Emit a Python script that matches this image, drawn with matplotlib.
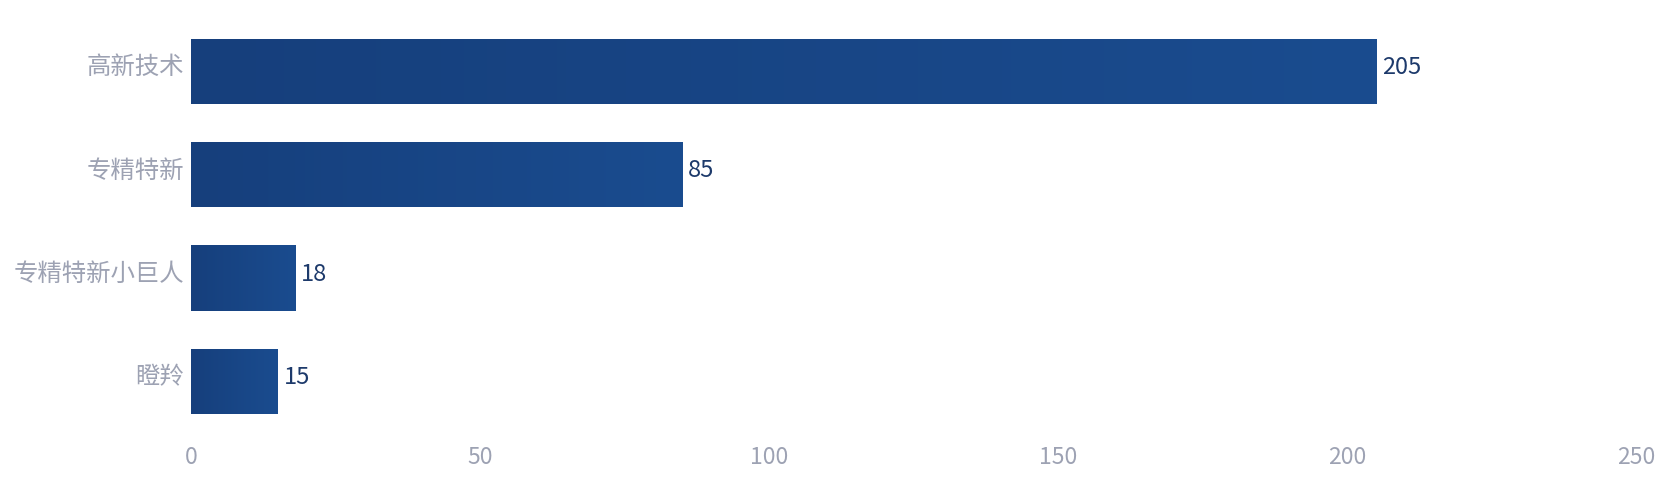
import matplotlib.pyplot as plt
import matplotlib.transforms as mtransforms
from matplotlib.colors import LinearSegmentedColormap
import numpy as np

plt.rcParams['font.family'] = ['Noto Sans CJK SC', 'DejaVu Sans']

# Data
categories = ['高新技术', '专精特新', '专精特新小巨人', '瞪羚']
values = [205, 85, 18, 15]
x_ticks = [0, 50, 100, 150, 200, 250]

label_color = '#9da2b3'
value_color = '#1d3a6b'

fig = plt.figure(figsize=(16.66, 4.98), dpi=100)
ax = fig.add_axes([0.1147, 0.1305, 0.8675, 0.83])

y = np.arange(len(categories))
bars = ax.barh(y, values, height=0.63, color='#184a8b')

# slight left-to-right gradient on each bar
grad = np.linspace(0, 1, 256).reshape(1, -1)
cmap = LinearSegmentedColormap.from_list('bar', ['#163f7c', '#1a4c8f'])
for b in bars:
    x0, y0, w, h = b.get_x(), b.get_y(), b.get_width(), b.get_height()
    im = ax.imshow(grad, extent=[x0, x0 + w, y0, y0 + h], aspect='auto',
                   cmap=cmap, zorder=2)
    im.set_clip_path(b)

# texts sit a touch above the bar centre in the original
lift = mtransforms.ScaledTranslation(0, 4 / 100, fig.dpi_scale_trans)
cat_shift = mtransforms.ScaledTranslation(-7 / 100, 4 / 100, fig.dpi_scale_trans)

for yi, v in zip(y, values):
    ax.text(v + 1, yi, str(v), va='center', ha='left', fontsize=17,
            color=value_color, transform=ax.transData + lift)

# category labels
ax.set_yticks(y)
ax.set_yticklabels([])
for yi, c in zip(y, categories):
    ax.text(0, yi, c, va='center', ha='right', fontsize=17.6, color=label_color,
            transform=ax.get_yaxis_transform() + cat_shift)

ax.set_xlim(0, 250)
ax.set_ylim(len(categories) - 0.5, -0.5)
ax.set_xticks(x_ticks)
ax.set_xticklabels([str(t) for t in x_ticks], fontsize=16.5, color=label_color)
ax.tick_params(axis='both', length=0)
ax.tick_params(axis='x', pad=9)
for s in ax.spines.values():
    s.set_visible(False)

fig.savefig('out.png', dpi=100)
